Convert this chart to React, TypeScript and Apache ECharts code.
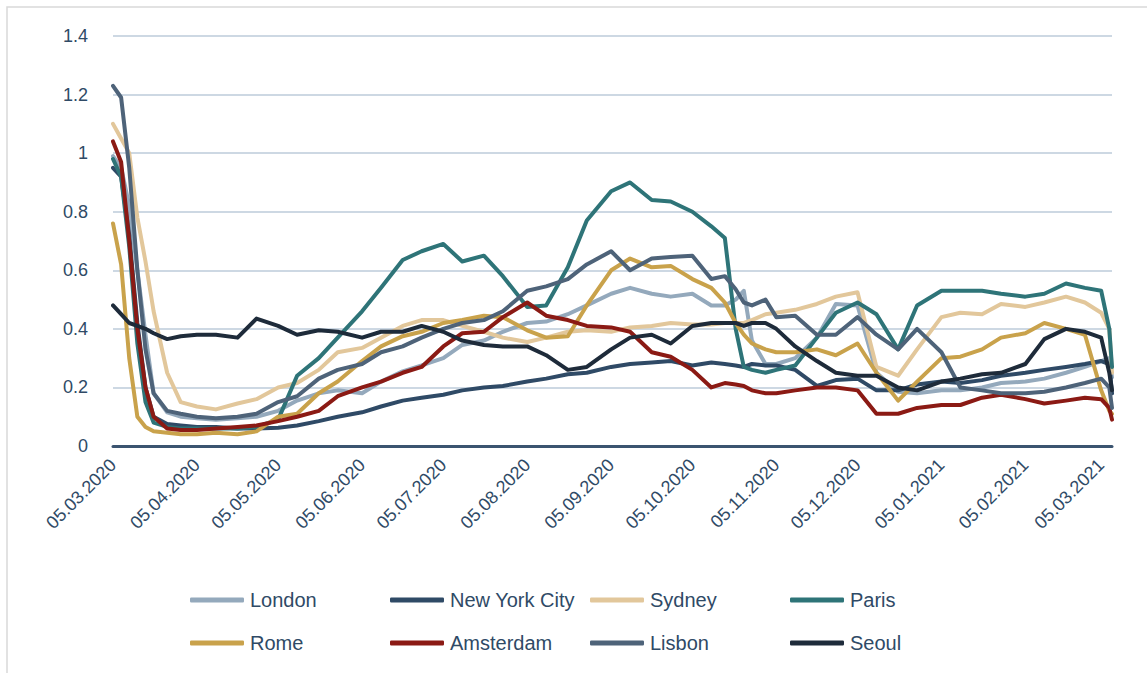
import React, { useEffect, useRef } from "react";
import * as echarts from "echarts";

const sampleDates = [
  "05.03.2020", "08.03.2020", "11.03.2020", "14.03.2020", "17.03.2020", "20.03.2020", "25.03.2020", "30.03.2020",
  "05.04.2020", "12.04.2020", "20.04.2020", "27.04.2020",
  "05.05.2020", "12.05.2020", "20.05.2020", "27.05.2020",
  "05.06.2020", "12.06.2020", "20.06.2020", "27.06.2020",
  "05.07.2020", "12.07.2020", "20.07.2020", "27.07.2020",
  "05.08.2020", "12.08.2020", "20.08.2020", "27.08.2020",
  "05.09.2020", "12.09.2020", "20.09.2020", "27.09.2020",
  "05.10.2020", "12.10.2020", "17.10.2020", "21.10.2020", "24.10.2020", "27.10.2020",
  "01.11.2020", "05.11.2020", "12.11.2020", "20.11.2020", "27.11.2020",
  "05.12.2020", "12.12.2020", "20.12.2020", "27.12.2020",
  "05.01.2021", "12.01.2021", "20.01.2021", "27.01.2021",
  "05.02.2021", "12.02.2021", "20.02.2021", "27.02.2021",
  "05.03.2021", "08.03.2021", "09.03.2021",
];

const london = [
  0.99, 0.95, 0.82, 0.6, 0.38, 0.18, 0.115, 0.1,
  0.095, 0.09, 0.095, 0.1,
  0.12, 0.155, 0.18, 0.19,
  0.18, 0.22, 0.255, 0.275,
  0.3, 0.345, 0.36, 0.39,
  0.42, 0.425, 0.45, 0.48,
  0.52, 0.54, 0.52, 0.51,
  0.52, 0.48, 0.48, 0.5, 0.53, 0.36,
  0.28, 0.28, 0.3, 0.37, 0.485,
  0.48, 0.25, 0.185, 0.18,
  0.19, 0.19, 0.2, 0.215,
  0.22, 0.23, 0.25, 0.27,
  0.29, 0.3, 0.235,
];

const newYorkCity = [
  0.95, 0.92, 0.72, 0.42, 0.2, 0.1, 0.075, 0.07,
  0.065, 0.065, 0.06, 0.06,
  0.062, 0.07, 0.085, 0.1,
  0.115, 0.135, 0.155, 0.165,
  0.175, 0.19, 0.2, 0.205,
  0.22, 0.23, 0.245, 0.25,
  0.27, 0.28, 0.285, 0.29,
  0.275, 0.285, 0.28, 0.275, 0.27, 0.28,
  0.275, 0.275, 0.26, 0.205, 0.225,
  0.23, 0.19, 0.19, 0.21,
  0.22, 0.215, 0.225, 0.24,
  0.25, 0.26, 0.27, 0.28,
  0.29, 0.28, 0.18,
];

const sydney = [
  1.1, 1.05, 1.0, 0.78, 0.63, 0.46, 0.25, 0.15,
  0.135, 0.125, 0.145, 0.16,
  0.2, 0.215, 0.26, 0.32,
  0.335, 0.37, 0.41, 0.43,
  0.43, 0.41, 0.39, 0.37,
  0.355, 0.37, 0.39, 0.395,
  0.39, 0.405, 0.41, 0.42,
  0.415, 0.415, 0.42, 0.42, 0.42, 0.43,
  0.45, 0.455, 0.465, 0.485, 0.51,
  0.525, 0.27, 0.24, 0.33,
  0.44, 0.455, 0.45, 0.485,
  0.475, 0.49, 0.51, 0.49,
  0.455, 0.4, 0.25,
];

const paris = [
  0.98, 0.92, 0.68, 0.35, 0.15, 0.08, 0.065, 0.06,
  0.06, 0.06, 0.06, 0.065,
  0.09, 0.24, 0.3, 0.37,
  0.46, 0.54, 0.635, 0.665,
  0.69, 0.63, 0.65, 0.58,
  0.475, 0.48, 0.61, 0.77,
  0.87, 0.9, 0.84, 0.835,
  0.8, 0.75, 0.71, 0.4, 0.27, 0.26,
  0.25, 0.26, 0.275, 0.37, 0.455,
  0.49, 0.45, 0.33, 0.48,
  0.53, 0.53, 0.53, 0.52,
  0.51, 0.52, 0.555, 0.54,
  0.53, 0.4, 0.27,
];

const rome = [
  0.76, 0.62, 0.3, 0.1, 0.065, 0.05, 0.045, 0.04,
  0.04, 0.045, 0.04, 0.05,
  0.1, 0.11, 0.18, 0.22,
  0.29, 0.34, 0.375, 0.39,
  0.42, 0.43, 0.445, 0.44,
  0.395, 0.37, 0.375, 0.48,
  0.6, 0.64, 0.61, 0.615,
  0.57, 0.54, 0.49, 0.42, 0.38, 0.35,
  0.33, 0.32, 0.32, 0.33, 0.31,
  0.35, 0.25, 0.155, 0.22,
  0.3, 0.305, 0.33, 0.37,
  0.385, 0.42, 0.4, 0.38,
  0.19, 0.12, 0.11,
];

const amsterdam = [
  1.04, 0.97, 0.7, 0.4, 0.2, 0.1, 0.06, 0.055,
  0.055, 0.06, 0.065, 0.07,
  0.085, 0.1, 0.12, 0.17,
  0.2, 0.22, 0.25, 0.27,
  0.34, 0.385, 0.39, 0.44,
  0.49, 0.445, 0.43, 0.41,
  0.405, 0.39, 0.32, 0.305,
  0.26, 0.2, 0.215, 0.21, 0.205, 0.19,
  0.18, 0.18, 0.19, 0.2, 0.2,
  0.19, 0.11, 0.11, 0.13,
  0.14, 0.14, 0.165, 0.175,
  0.16, 0.145, 0.155, 0.165,
  0.16, 0.13, 0.09,
];

const lisbon = [
  1.23, 1.19, 0.95, 0.6, 0.33, 0.18, 0.12, 0.11,
  0.1, 0.095, 0.1, 0.11,
  0.15, 0.17, 0.23, 0.26,
  0.28, 0.32, 0.34, 0.37,
  0.4, 0.42, 0.43, 0.46,
  0.53, 0.545, 0.57, 0.62,
  0.665, 0.6, 0.64, 0.645,
  0.65, 0.57, 0.58, 0.535, 0.49, 0.48,
  0.5, 0.44, 0.445, 0.38, 0.38,
  0.44, 0.38, 0.33, 0.4,
  0.32, 0.2, 0.19, 0.18,
  0.18, 0.185, 0.2, 0.215,
  0.23, 0.2, 0.13,
];

const seoul = [
  0.48, 0.45, 0.42, 0.41, 0.4, 0.385, 0.365, 0.375,
  0.38, 0.38, 0.37, 0.435,
  0.41, 0.38, 0.395, 0.39,
  0.37, 0.39, 0.39, 0.41,
  0.39, 0.36, 0.345, 0.34,
  0.34, 0.31, 0.26, 0.27,
  0.33, 0.37, 0.38, 0.35,
  0.41, 0.42, 0.42, 0.42, 0.41, 0.42,
  0.42, 0.4, 0.34, 0.29, 0.25,
  0.24, 0.24, 0.2, 0.19,
  0.22, 0.23, 0.245, 0.25,
  0.28, 0.365, 0.4, 0.39,
  0.37, 0.25, 0.19,
];

const seriesNames = ["London", "New York City", "Sydney", "Paris", "Rome", "Amsterdam", "Lisbon", "Seoul"];
const seriesValues = [london, newYorkCity, sydney, paris, rome, amsterdam, lisbon, seoul];
const seriesColors = ["#94A9BC", "#2F4A66", "#E2C79B", "#2E7478", "#C9A24B", "#8B1A14", "#4E6379", "#1E2B3A"];

const monthTickDates = [
  "05.03.2020", "05.04.2020", "05.05.2020", "05.06.2020", "05.07.2020", "05.08.2020", "05.09.2020",
  "05.10.2020", "05.11.2020", "05.12.2020", "05.01.2021", "05.02.2021", "05.03.2021",
];

const START = Date.UTC(2020, 2, 5);
const DAY = 86400000;
function dayOffset(s: string): number {
  const [d, m, y] = s.split(".").map(Number);
  return Math.round((Date.UTC(y, m - 1, d) - START) / DAY);
}
function pad(n: number): string {
  return n < 10 ? "0" + n : String(n);
}
function dateLabel(off: number): string {
  const dt = new Date(START + Math.round(off) * DAY);
  return pad(dt.getUTCDate()) + "." + pad(dt.getUTCMonth() + 1) + "." + dt.getUTCFullYear();
}

const TEXT_COLOR = "#2F4A66";
const FONT = "'Liberation Sans', Arial, sans-serif";

export default function App() {
  const ref = useRef<HTMLDivElement>(null);
  useEffect(() => {
    document.body.style.margin = "0";
    if (!ref.current) return;
    const chart = echarts.init(ref.current, null, { renderer: "svg" });
    const xMax = dayOffset(sampleDates[sampleDates.length - 1]);
    const legends = seriesNames.map((name, i) => ({
      data: [name],
      left: 190 + (i % 4) * 200,
      top: 590 + Math.floor(i / 4) * 43,
      itemWidth: 54,
      itemHeight: 5,
      itemGap: 0,
      icon: "roundRect",
      padding: 0,
      textStyle: { color: TEXT_COLOR, fontSize: 20, fontFamily: FONT, padding: [0, 0, 0, 1] },
    }));
    chart.setOption({
      animation: false,
      backgroundColor: "#ffffff",
      textStyle: { fontFamily: FONT },
      graphic: [
        {
          type: "rect",
          shape: { x: 7, y: 7, width: 1200, height: 760 },
          style: { fill: "none", stroke: "#D9D9D9", lineWidth: 1.5 },
          silent: true,
        },
      ],
      grid: { left: 113, right: 35, top: 36, bottom: 227 },
      legend: legends,
      xAxis: {
        type: "value",
        min: 0,
        max: xMax,
        splitLine: { show: false },
        axisTick: { show: false },
        axisLine: { show: true, lineStyle: { color: "#3B5470", width: 3 } },
        axisLabel: {
          customValues: monthTickDates.map(dayOffset),
          formatter: (v: number) => dateLabel(v),
          rotate: 45,
          margin: 16,
          color: TEXT_COLOR,
          fontSize: 18,
          fontFamily: FONT,
        },
      },
      yAxis: {
        type: "value",
        min: 0,
        max: 1.4,
        interval: 0.2,
        axisLine: { show: false },
        axisTick: { show: false },
        splitLine: { lineStyle: { color: "#BCCBDA", width: 1.5 } },
        axisLabel: {
          formatter: (v: number) => String(Number(v.toFixed(1))),
          color: TEXT_COLOR,
          fontSize: 18,
          fontFamily: FONT,
          margin: 25,
        },
      },
      series: seriesNames.map((name, i) => ({
        name,
        type: "line",
        showSymbol: false,
        symbol: "none",
        color: seriesColors[i],
        lineStyle: { width: 4, color: seriesColors[i], cap: "round", join: "round" },
        data: sampleDates.map((d, j) => [dayOffset(d), seriesValues[i][j]]),
      })),
    });
    return () => chart.dispose();
  }, []);
  return <div ref={ref} style={{ width: 1147, height: 673 }} />;
}
